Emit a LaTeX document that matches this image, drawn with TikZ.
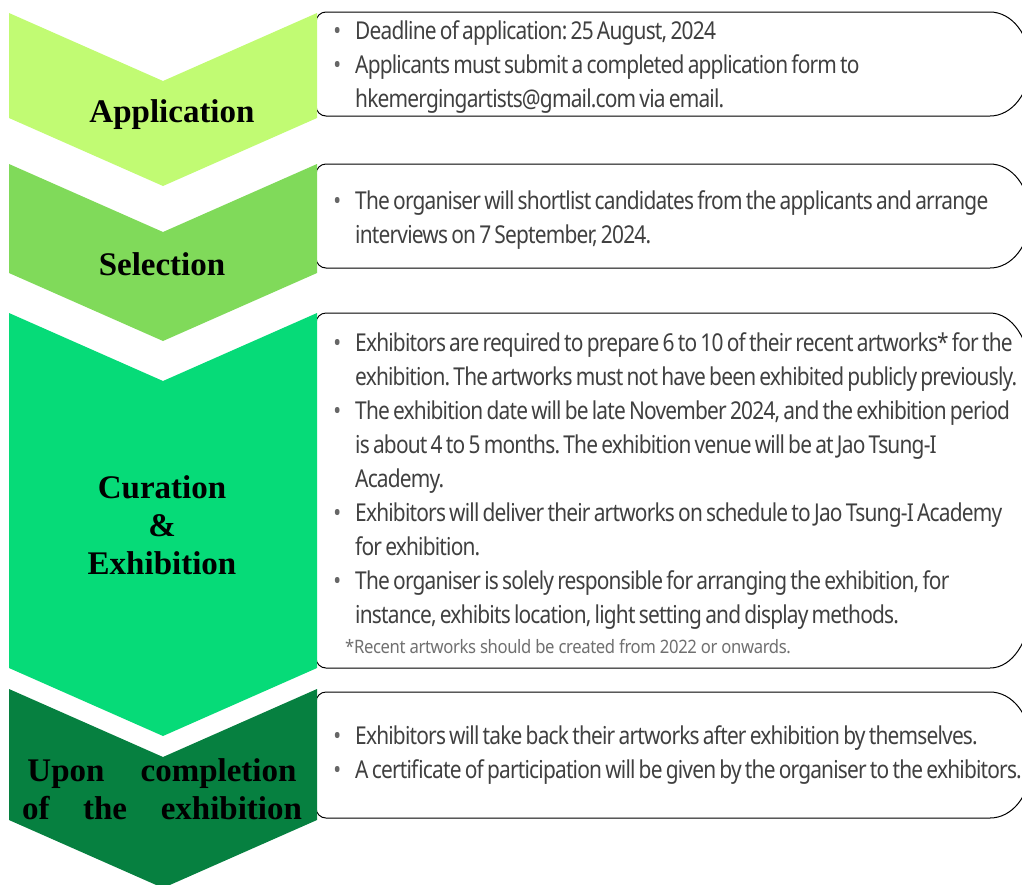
\documentclass[tikz,border=0pt]{standalone}
\usepackage{fontspec}
\newfontfamily\notefont[FakeStretch=0.85,LetterSpace=-3.3,WordSpace=0.7]{Noto Sans}
\newfontfamily\smallfont[FakeStretch=0.9,LetterSpace=-2]{Noto Sans}
\newfontfamily\stagefont{Liberation Serif}
\usetikzlibrary{positioning}
\frenchspacing

\definecolor{appgreen}{RGB}{193,251,115}
\definecolor{selgreen}{RGB}{128,218,90}
\definecolor{curgreen}{RGB}{6,219,120}
\definecolor{endgreen}{RGB}{6,128,64}
\definecolor{notegray}{RGB}{64,64,64}

\tikzset{
  chevron/.style={fill=#1, draw=none},
  stage/.style={font=\stagefont\fontsize{33}{38}\selectfont\bfseries, align=center, inner sep=0pt},
  infobox/.style={draw=black, line width=1pt, fill=white},
  info/.style={anchor=north west, align=left, text=notegray, inner sep=0pt,
    font=\notefont\fontsize{24.6}{34}\selectfont},
  footnote/.style={text=notegray!75, inner sep=0pt, font=\smallfont\fontsize{18.5}{20}\selectfont},
}
\newcommand{\bul}{\llap{\textcolor{notegray!80}{\textbullet}\hspace{14pt}}}
% box: top, bottom, corner height of the right end
\newcommand{\infobox}[3]{%
  \draw[infobox] (990,#1) arc[start angle=-90, end angle=0, x radius=40, y radius=#3]
    -- (1030,#2-#3) arc[start angle=0, end angle=90, x radius=40, y radius=#3]
    -- (326,#2) arc[start angle=90, end angle=180, radius=10]
    -- (316,#1+10) arc[start angle=180, end angle=270, radius=10] -- cycle;}
% chevron: top, bottom of the side edges, colour
\newcommand{\chevron}[3]{%
  \fill[chevron=#3] (9,#1) -- (163,#1+68) -- (317,#1) -- (317,#2) -- (163,#2+68) -- (9,#2) -- cycle;}

\begin{document}
\begin{tikzpicture}[x=1pt,y=-1pt]
  \useasboundingbox (0,0) rectangle (1022,884);
  \clip (0,0) rectangle (1022,884);

  % boxes first, chevrons on top
  \infobox{12}{116}{52}
  \infobox{164}{268}{52}
  \infobox{313}{668}{60}
  \infobox{692}{818}{50}

  \chevron{13}{118}{appgreen}
  \chevron{164}{273}{selgreen}
  \chevron{313}{668}{curgreen}
  \chevron{689}{820}{endgreen}

  \node[stage] (application) at (172,115) {Application};
  \node[stage] (selection) at (162,264) {Selection};
  \node[stage] (curation) at (162,525) {Curation\\\&\\Exhibition};
  \node[stage] (completion) at (162,789) {\makebox[269pt][s]{Upon completion}\\\makebox[280pt][s]{of the exhibition}};

  \node[info] (appinfo) at (355,20) {\bul Deadline of application: 25 August, 2024\\
    \bul Applicants must submit a completed application form to\\
    hkemergingartists@gmail.com via email.};
  \node[info] (selinfo) at (355,190) {\bul The organiser will shortlist candidates from the applicants and arrange\\
    interviews on 7 September, 2024.};
  \node[info] (curinfo) at (355,332) {\bul Exhibitors are required to prepare 6 to 10 of their recent artworks* for the\\
    exhibition. The artworks must not have been exhibited publicly previously.\\
    \bul The exhibition date will be late November 2024, and the exhibition period\\
    is about 4 to 5 months. The exhibition venue will be at Jao Tsung-I\\
    Academy.\\
    \bul Exhibitors will deliver their artworks on schedule to Jao Tsung-I Academy\\
    for exhibition.\\
    \bul The organiser is solely responsible for arranging the exhibition, for\\
    instance, exhibits location, light setting and display methods.};
  \node[footnote, below=10pt of curinfo.south west, anchor=north west, xshift=-10pt] (curnote)
    {*Recent artworks should be created from 2022 or onwards.};
  \node[info] (endinfo) at (355,725) {\bul Exhibitors will take back their artworks after exhibition by themselves.\\
    \bul A certificate of participation will be given by the organiser to the exhibitors.};
\end{tikzpicture}
\end{document}
